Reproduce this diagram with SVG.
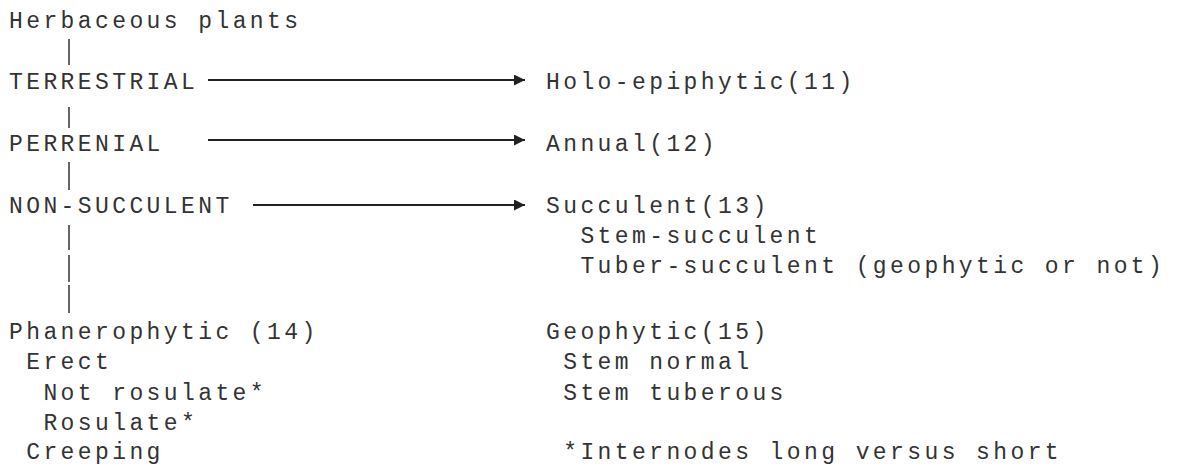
<svg xmlns="http://www.w3.org/2000/svg" width="1179" height="469" viewBox="0 0 1179 469">
<defs>
<style>
text{font-family:"Liberation Mono","DejaVu Sans Mono",monospace;font-size:23px;letter-spacing:3.4px;fill:#333}
.bar{stroke:#333;stroke-width:1.5;fill:none}
.arr{stroke:#222;stroke-width:2;fill:none;marker-end:url(#ah)}
</style>
<marker id="ah" viewBox="0 0 10 10" refX="10" refY="5" markerWidth="8" markerHeight="5.5" markerUnits="strokeWidth" orient="auto">
<path d="M0,0 L10,5 L0,10 z" fill="#222"/>
</marker>
</defs>
<rect width="1179" height="469" fill="#fff"/>
<g id="connectors">
<line class="bar" x1="69" y1="39" x2="69" y2="65"/>
<line class="bar" x1="69" y1="107" x2="69" y2="128"/>
<line class="bar" x1="69" y1="162" x2="69" y2="190"/>
<line class="bar" x1="69" y1="225" x2="69" y2="250"/>
<line class="bar" x1="69" y1="255" x2="69" y2="282"/>
<line class="bar" x1="69" y1="285" x2="69" y2="313"/>
<line class="arr" x1="208" y1="80" x2="525" y2="80"/>
<line class="arr" x1="208" y1="140" x2="525" y2="140"/>
<line class="arr" x1="253" y1="205" x2="525" y2="205"/>
</g>
<g id="herbaceous"><text x="9" y="27.5">Herbaceous plants</text></g>
<g id="terrestrial"><text x="9" y="89">TERRESTRIAL</text></g>
<g id="holo-epiphytic"><text x="546" y="89">Holo-epiphytic(11)</text></g>
<g id="perrenial"><text x="9" y="151">PERRENIAL</text></g>
<g id="annual"><text x="546" y="151">Annual(12)</text></g>
<g id="non-succulent"><text x="9" y="213">NON-SUCCULENT</text></g>
<g id="succulent">
<text x="546" y="213">Succulent(13)</text>
<text x="580.4" y="243">Stem-succulent</text>
<text x="580.4" y="273">Tuber-succulent (geophytic or not)</text>
</g>
<g id="phanerophytic">
<text x="9" y="338.5">Phanerophytic (14)</text>
<text x="26.2" y="369">Erect</text>
<text x="43.4" y="399.5">Not rosulate*</text>
<text x="43.4" y="429.5">Rosulate*</text>
<text x="26.2" y="459">Creeping</text>
</g>
<g id="geophytic">
<text x="546" y="338.5">Geophytic(15)</text>
<text x="563.2" y="369">Stem normal</text>
<text x="563.2" y="399.5">Stem tuberous</text>
</g>
<g id="footnote"><text x="563.2" y="459">*Internodes long versus short</text></g>
</svg>
